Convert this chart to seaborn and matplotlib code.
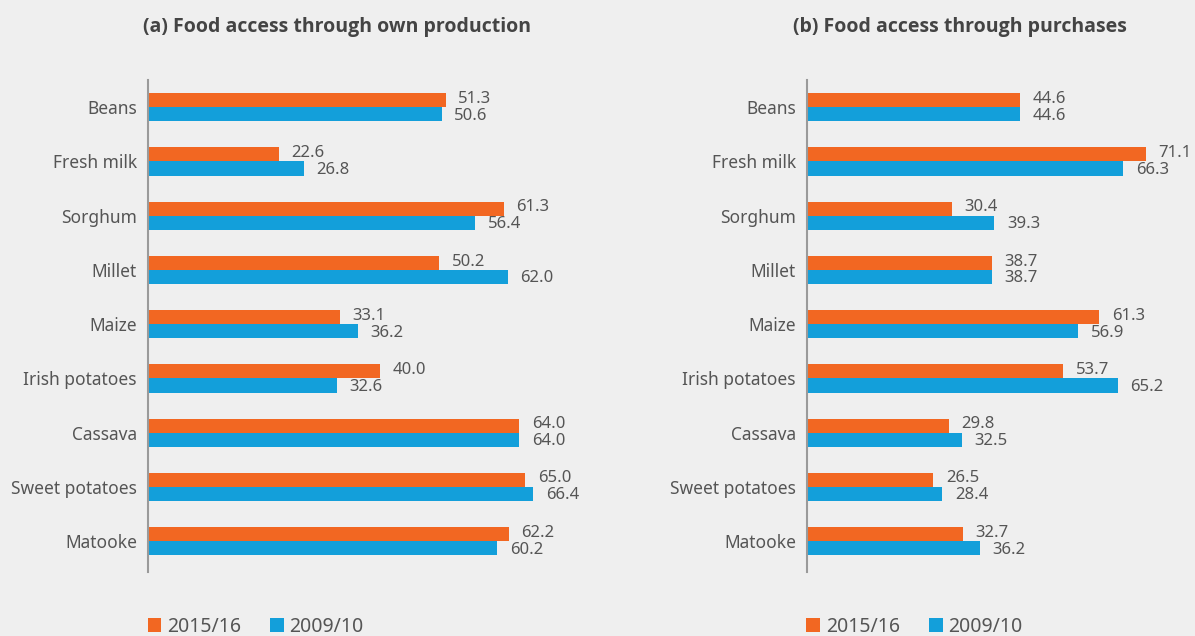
import matplotlib
matplotlib.use("Agg")
import matplotlib.pyplot as plt
import seaborn as sns
import pandas as pd
from matplotlib.patches import Patch

categories = ["Beans", "Fresh milk", "Sorghum", "Millet", "Maize", "Irish potatoes",
              "Cassava", "Sweet potatoes", "Matooke"]
series_names = ["2015/16", "2009/10"]
own_2015 = [51.3, 22.6, 61.3, 50.2, 33.1, 40.0, 64.0, 65.0, 62.2]
own_2009 = [50.6, 26.8, 56.4, 62.0, 36.2, 32.6, 64.0, 66.4, 60.2]
pur_2015 = [44.6, 71.1, 30.4, 38.7, 61.3, 53.7, 29.8, 26.5, 32.7]
pur_2009 = [44.6, 66.3, 39.3, 38.7, 56.9, 65.2, 32.5, 28.4, 36.2]
titles = ["(a) Food access through own production", "(b) Food access through purchases"]

ORANGE = "#f26722"
BLUE = "#139fda"
BG = "#efefef"
TXT = "#555555"

sns.set_theme(style="white")
plt.rcParams["font.family"] = ["Noto Sans", "DejaVu Sans"]

fig = plt.figure(figsize=(11.95, 6.36), dpi=100, facecolor=BG)

def long_df(a, b):
    return pd.DataFrame({
        "food": categories * 2,
        "year": [series_names[0]] * len(categories) + [series_names[1]] * len(categories),
        "value": list(a) + list(b),
    })

panels = [
    (long_df(own_2015, own_2009), [148 / 1195, 0.1006, 412 / 1195, 0.7734], 71.0, titles[0], 337),
    (long_df(pur_2015, pur_2009), [807 / 1195, 0.1006, 353 / 1195, 0.7734], 74.0, titles[1], 960),
]

for df, pos, xmax, title, tcx in panels:
    ax = fig.add_axes(pos)
    ax.set_facecolor(BG)
    sns.barplot(data=df, y="food", x="value", hue="year", orient="h",
                palette=[ORANGE, BLUE], width=0.52, ax=ax, legend=False,
                edgecolor="none", saturation=1)
    for k, cont in enumerate(ax.containers):
        labs = ax.bar_label(cont, fmt="%.1f", padding=9, color=TXT, fontsize=12)
        dy = 1.0 if k == 0 else -1.0
        for t in labs:
            t.xyann = (9, dy)
    ax.set_xlim(0, xmax)
    ax.set_ylim(8.57, -0.5)
    ax.set_xlabel("")
    ax.set_ylabel("")
    ax.set_xticks([])
    ax.tick_params(axis="y", length=0, pad=8, labelsize=12.5, labelcolor=TXT)
    for s in ["top", "right", "bottom"]:
        ax.spines[s].set_visible(False)
    ax.spines["left"].set_color("#9a9a9a")
    ax.spines["left"].set_linewidth(1.5)
    fig.text(tcx / 1195, 1 - 27 / 636, title, ha="center", va="center",
             fontsize=14, fontweight="bold", color="#444444",
             family=["Open Sans", "DejaVu Sans"])
    handles = [Patch(facecolor=ORANGE, edgecolor="none"), Patch(facecolor=BLUE, edgecolor="none")]
    fig.legend(handles, series_names, loc="center left",
               bbox_to_anchor=(pos[0] - 18 / 1195, 1 - 627 / 636), ncol=2, frameon=False,
               handlelength=0.7, handleheight=0.7, handletextpad=0.3, columnspacing=1.5,
               fontsize=14, labelcolor=TXT)

fig.savefig("out.png", dpi=100, facecolor=BG)
